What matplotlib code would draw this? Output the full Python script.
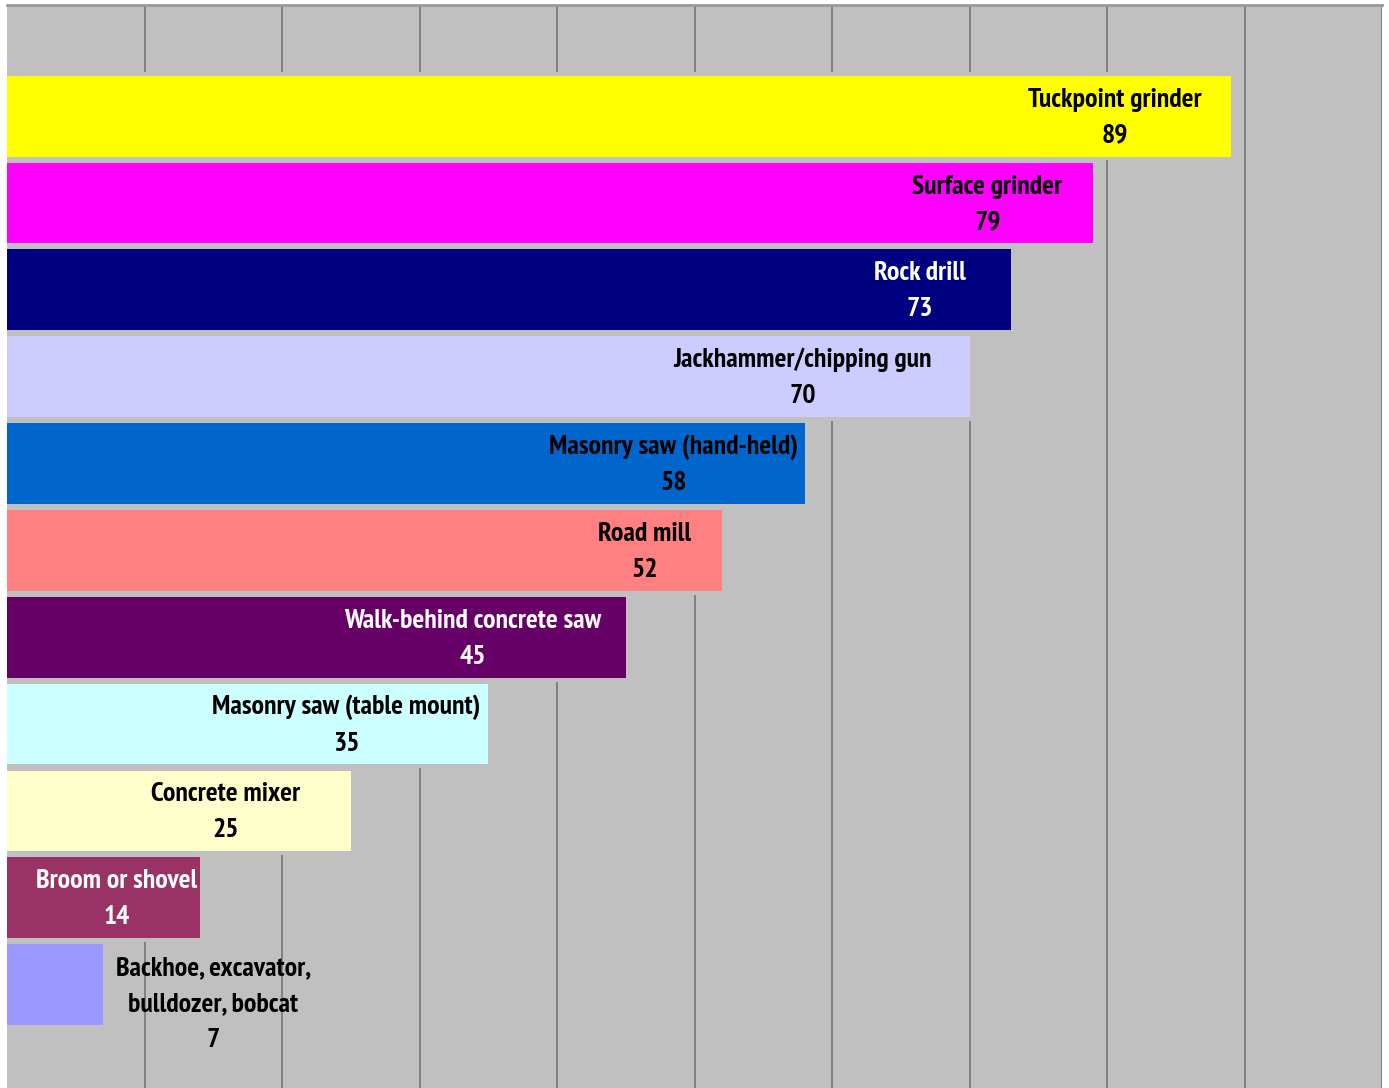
import matplotlib.pyplot as plt
from matplotlib import font_manager
import numpy as np

# silica exposure by tool / equipment type
tools = [
    "Tuckpoint grinder",
    "Surface grinder",
    "Rock drill",
    "Jackhammer/chipping gun",
    "Masonry saw (hand-held)",
    "Road mill",
    "Walk-behind concrete saw",
    "Masonry saw (table mount)",
    "Concrete mixer",
    "Broom or shovel",
    "Backhoe, excavator,\nbulldozer, bobcat",
]
values = [89, 79, 73, 70, 58, 52, 45, 35, 25, 14, 7]

bar_colors = ["#FFFF00", "#FF00FF", "#000080", "#CCCCFF", "#0066CC", "#FF8080",
              "#660066", "#CCFFFF", "#FFFFCC", "#993366", "#9999FF"]
text_colors = ["black", "black", "white", "black", "black", "black",
               "white", "black", "black", "white", "black"]
# where each data label sits (x centre, data units)
label_x = [80.6, 71.3, 66.4, 57.9, 48.5, 46.4, 33.9, 24.7, 15.9, 8.0, 15.0]

BG = "#C0C0C0"
GRID = "#808080"

# narrow bold font like the original (Arial Narrow Bold), fall back to DejaVu
bold_fonts = {f.name for f in font_manager.fontManager.ttflist
              if f.weight in (700, 'bold')}
narrow = next((n for n in ['Liberation Sans Narrow', 'Arial Narrow', 'PT Sans Narrow',
                           'Archivo Narrow', 'Roboto Condensed', 'Open Sans Condensed']
               if n in bold_fonts), 'DejaVu Sans')
plt.rcParams['font.family'] = [narrow, 'DejaVu Sans']

fig = plt.figure(figsize=(13.89, 10.88), dpi=100)
ax = fig.add_axes([7 / 1389, 0, (1382 - 7) / 1389, (1088 - 5) / 1088])
ax.set_facecolor(BG)

y = np.arange(len(values))

# gridlines every 10
for gx in range(10, 101, 10):
    ax.axvline(gx, color=GRID, lw=1.4, zorder=1)

# gray band behind each bar hides the gridlines in the gaps (like the original)
ax.barh(y, np.array(values) + 0.3, height=1.02, color=BG, zorder=2)
ax.barh(y, values, height=0.93, color=bar_colors, zorder=3)

for i, (name, v) in enumerate(zip(tools, values)):
    lines = name.split("\n") + [str(v)]
    for k, line in enumerate(lines):
        ax.text(label_x[i], i - 0.19 + 0.414 * k, line, ha='center', va='center',
                fontsize=20, fontweight='bold', color=text_colors[i], zorder=4)

ax.set_xlim(0, 100)
ax.set_ylim(11.19, -1.28)
ax.set_xticks([])
ax.set_yticks([])
for side in ['left', 'bottom', 'right']:
    ax.spines[side].set_visible(False)
ax.spines['top'].set_color("#999999")
ax.spines['top'].set_linewidth(2)

fig.savefig("out.png", dpi=100, facecolor="white")
